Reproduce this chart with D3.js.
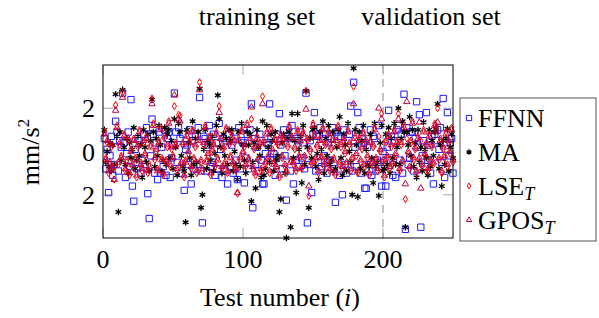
<!DOCTYPE html>
<html>
<head>
<meta charset="utf-8">
<script src="https://cdn.jsdelivr.net/npm/d3@7"></script>
<style>
  body { margin: 0; background: #fff; }
</style>
</head>
<body>
<svg id="viz"></svg>
<script>
const svg = d3.select("#viz")
  .attr("width", 599).attr("height", 318)
  .attr("font-family", "'Liberation Serif', 'Times New Roman', Times, serif");

// values for test number 1..250
const ffnn = [
  0.6, -0.8, 0.1, -1.9, -0.2, 0.7, -1.1, -0.6, 1.4, 0.9,
  -0.9, 0.5, 0.2, 2.7, 0.4, -1.2, -0.1, 0.9, -0.7, 2.4,
  -1.6, -2.3, 0.1, -0.8, 0.6, 0.5, -1.0, -0.4, 0.8, -0.6,
  1.1, -1.95, -3.1, -0.2, 1.5, 0.8, -1.0, 0.4, -1.3, 0.9,
  -1.0, 0.2, -0.7, 1.0, -1.1, 0.6, 0.9, -1.2, -0.3, 0.3,
  2.7, 0.9, -0.5, 1.1, 0.6, -1.0, 0.8, -1.8, 0.1, 0.3,
  -0.6, 1.0, -1.5, 0.5, -0.8, 0.7, -0.6, 1.1, 2.5, -0.9,
  -3.3, 0.7, 0.6, -0.9, 0.3, 1.2, -0.7, -0.5, 0.8, -1.1,
  0.4, -0.8, 1.3, 0.1, -1.2, 0.6, -0.9, 0.5, -1.5, 0.8,
  -0.7, 0.3, -1.0, 0.9, -0.4, -1.3, 1.1, -0.8, 0.5, 0.4,
  -1.45, -0.3, 0.8, -0.8, 1.0, 2.2, -2.6, 0.6, -0.6, 0.2,
  -0.9, 0.8, -0.4, -1.5, -1.5, -0.1, 0.4, 0.3, 2.2, 0.6,
  -0.4, -0.1, -1.1, -0.3, 0.8, 1.75, 0.3, -0.8, 1.0, -0.2,
  -2.25, 0.7, 0.6, -0.9, 1.2, -1.5, 0.6, -0.4, 0.5, -0.7,
  0.9, -0.3, 0.4, -0.8, 2.7, -3.3, -0.6, 0.5, -1.9, 0.8,
  1.8, -0.9, 0.7, -0.5, 1.1, -0.7, 0.6, -0.2, 0.8, -1.0,
  0.4, -0.4, 0.6, 1.1, -0.8, -2.35, 0.9, 0.7, -1.1, 0.7,
  -2.0, 1.0, -0.6, -1.0, 0.5, 0.8, 2.1, -0.9, 3.2, 0.2,
  -0.7, 1.8, 1.1, -1.0, 0.6, 0.4, -1.7, -1.7, 0.2, -0.6,
  1.0, -1.1, 0.7, 0.6, -0.9, -0.4, 1.2, -0.5, -1.6, 0.0,
  -0.7, -1.6, 0.2, 1.9, -0.3, 0.7, -1.1, 0.5, -1.2, 1.0,
  1.2, -0.4, 0.8, -1.0, 2.65, -3.6, 1.1, -0.6, -0.3, 0.9,
  0.9, -0.9, 0.6, 2.3, 0.2, 1.7, -3.5, -0.2, 0.5, -0.7,
  1.8, -0.4, 0.3, -1.0, 0.7, -1.5, 0.8, 0.5, 1.0, 0.1,
  1.1, -0.5, 2.45, -1.2, 0.4, 1.8, -0.2, 0.4, 0.6, -1.0
];
const ma = [
  1.0, -0.5, 0.0, -0.7, 0.4, -0.9, 0.3, -0.6, 2.65, 0.7,
  -2.8, 0.9, -0.4, 2.85, 0.2, -0.6, 0.6, -1.0, 0.4, -0.3,
  0.1, 1.1, -0.8, -0.4, 0.7, -0.2, 0.3, -1.2, 1.0, 0.2,
  -0.5, 0.8, -0.9, 0.5, 2.4, 0.9, -0.7, 0.6, -0.2, 1.2,
  0.3, -0.9, -0.4, 1.1, -0.6, 0.8, 1.0, -0.3, 0.5, -0.8,
  1.5, 0.2, -1.1, 1.3, 0.9, -0.2, -0.7, -0.9, -3.27, 1.0,
  0.4, -0.3, -1.1, 1.4, -0.6, 0.6, -0.5, 0.9, 2.9, -2.6,
  -2.0, 0.1, 1.0, -0.8, 0.5, 0.3, -0.4, 0.7, -0.9, -0.1,
  1.2, 2.6, 1.5, 0.2, -1.0, 0.8, -0.2, 0.6, -0.6, 1.0,
  0.5, 1.0, -0.9, 0.0, -0.6, -1.3, 0.9, -0.7, 1.3, 0.3,
  -0.4, -1.0, 0.9, 0.3, 0.8, -2.3, -0.5, 0.4, -1.7, 1.0,
  0.2, -0.2, -1.2, 1.4, -1.1, -0.8, 1.2, 0.2, -0.5, 0.8,
  0.5, -0.9, 0.9, -0.4, -0.2, -2.8, -2.2, 0.4, 0.8, -1.0,
  -4.0, 0.6, 0.9, -3.5, 1.75, -0.3, 0.5, -1.9, 1.75, 0.1,
  0.7, -1.45, 1.2, -0.6, 2.8, 0.2, -2.6, 0.6, -0.3, 1.0,
  1.1, -0.7, -0.1, -1.3, 0.9, 0.1, 1.4, -1.0, 0.6, -0.2,
  1.2, -0.6, -0.4, 0.9, -0.9, -0.8, 0.2, 1.0, 1.6, -0.3,
  -1.1, 0.8, 0.3, -0.9, 1.3, 0.0, -0.5, -2.0, 3.85, 1.0,
  0.3, -2.1, 0.9, -0.8, 0.5, 1.2, -1.0, 0.1, -0.6, -0.7,
  0.8, -0.3, -1.45, 1.3, -0.7, -0.5, -2.05, 0.4, 1.2, -0.9,
  -0.8, 0.8, -0.6, 1.1, -1.0, 0.6, -0.3, 1.3, -0.6, 0.2,
  2.0, -0.6, 0.6, 1.4, 0.9, -3.5, 0.9, 0.3, 1.6, -0.2,
  1.0, -0.7, 0.4, -1.2, 1.0, -0.5, 0.2, -0.9, 1.35, 0.1,
  -0.3, -1.1, 1.0, -0.7, 0.5, -0.2, 0.9, 1.1, 2.2, -0.8,
  0.3, -1.6, 0.5, -0.6, 0.6, 1.05, -0.9, 0.2, 0.8, -0.3
];
const lse = [
  0.9, -0.3, 0.4, -1.0, -0.5, 0.2, -0.8, -1.3, 2.15, 1.2,
  -0.6, 0.3, -0.2, 2.7, 0.8, -0.9, -0.4, 0.5, -1.1, 0.1,
  -0.7, 0.6, -0.3, -1.2, 0.2, 1.0, -0.5, -0.9, 0.4, -0.2,
  0.7, -1.0, -0.6, 0.3, 2.45, 1.3, -0.4, 0.0, -0.8, 0.5,
  1.1, -0.3, -1.1, 0.6, -0.5, 0.2, 1.4, -0.7, 0.1, -0.2,
  2.1, 0.4, -0.9, 1.7, 1.65, -0.6, 0.3, -1.2, -0.4, 0.8,
  -0.1, 0.5, -0.8, 1.0, -0.3, 0.2, -1.0, 0.6, 3.2, -0.5,
  -0.9, 0.3, 1.2, -0.4, -0.2, 0.7, -1.1, 0.0, 0.4, -0.7,
  0.9, -0.3, 2.1, 0.5, -0.8, 0.1, -0.5, 1.1, -1.0, 0.3,
  -0.2, 0.8, -0.6, 0.4, -0.9, -1.95, 0.6, -0.4, 1.0, -0.1,
  0.2, -0.7, 1.3, -0.3, 0.5, 1.5, -0.8, 0.1, -1.1, 0.7,
  -0.4, 0.3, -0.9, 2.55, 0.4, -0.6, 0.9, -0.2, -1.0, 1.1,
  0.0, -0.5, 0.6, -0.8, 0.3, -1.2, 0.8, -0.3, 0.5, -0.7,
  -1.0, 0.2, 1.2, -0.4, 0.7, -0.6, 0.1, -0.9, 1.0, -0.2,
  0.4, -0.8, 0.9, -0.3, 2.8, 0.5, -2.05, 0.0, -0.6, 1.3,
  0.8, -0.4, 0.2, -1.0, 0.6, -0.2, 1.1, -0.7, 0.3, -0.5,
  0.9, -0.9, 0.1, 0.6, -0.3, -1.1, 0.4, 1.2, -0.6, 0.2,
  -0.8, 0.5, -0.1, -0.6, 1.0, 0.3, -0.9, -0.4, 3.0, 0.7,
  -0.2, -1.0, 0.6, -0.5, 0.1, 0.9, -0.7, 0.4, -0.3, -1.1,
  0.5, -0.6, 0.2, 1.1, -0.4, -0.9, 0.7, 0.0, 1.75, -0.5,
  -1.2, 0.4, -0.3, 0.8, -0.8, 0.2, -0.6, 1.0, -0.2, 0.5,
  1.75, -0.9, 0.3, -0.5, 1.2, -2.2, 0.6, -0.1, -0.8, 0.4,
  1.4, -0.4, 0.1, -1.0, 0.7, -0.3, 0.5, -0.7, 1.0, -0.2,
  0.3, -0.9, 0.8, -0.5, 0.2, -0.6, 1.3, 1.0, 2.0, -0.4,
  0.6, -1.0, 0.1, -0.3, 0.9, -0.7, 0.4, -0.1, 1.1, -0.5
];
const gpos = [
  0.8, -0.4, 0.5, -0.9, -0.6, 0.3, -0.7, -1.3, 1.9, 1.1,
  -0.5, 0.4, -0.3, 2.5, 0.7, -0.8, -0.5, 0.6, -1.0, 0.0,
  -0.6, 0.5, -0.4, -1.1, 0.3, 0.9, -0.6, -0.8, 0.5, -0.1,
  0.6, -0.9, -0.7, 0.2, 2.2, 1.2, -0.3, 0.1, -0.9, 0.4,
  1.0, -0.4, -1.0, 0.7, -0.4, 0.3, 1.3, -0.6, 0.2, -0.3,
  2.6, 0.3, -0.8, 1.5, 1.4, -0.5, 0.4, -1.1, -0.5, 0.7,
  0.0, 0.4, -0.7, 0.9, -0.4, 0.3, -0.9, 0.5, 2.85, -0.4,
  -0.8, 0.4, 1.1, -0.5, -0.1, 0.6, -1.0, 0.1, 0.3, -0.6,
  0.8, -0.4, 1.8, 0.6, -0.7, 0.2, -0.6, 1.0, -0.9, 0.4,
  -0.3, 0.7, -0.5, 0.5, -0.8, -1.9, 0.5, -0.3, 0.9, 0.0,
  0.3, -0.6, 1.2, -0.4, 0.6, 2.05, -0.7, 0.2, -1.0, 0.6,
  -0.3, 0.4, -0.8, 2.2, 0.5, -0.5, 0.8, -0.3, -0.9, 1.0,
  0.1, -0.6, 0.5, -0.7, 0.4, -1.1, 0.7, -0.2, 0.6, -0.6,
  -0.9, 0.3, 1.1, -0.5, 0.6, -0.5, 0.2, -0.8, 0.9, -0.3,
  0.5, -0.7, 0.8, -0.2, 1.95, 0.6, -1.6, 0.1, -0.5, 1.2,
  0.7, -0.3, 0.3, -0.9, 0.5, -0.3, 1.0, -0.6, 0.4, -0.4,
  0.8, -0.8, 0.2, 0.5, -0.4, -1.0, 0.5, 1.1, -0.5, 0.3,
  -0.7, 0.6, 0.0, -0.5, 0.9, 0.4, -0.8, -0.3, 2.2, 0.6,
  -0.1, -0.9, 0.5, -0.4, 0.2, 0.8, -0.6, 0.5, -0.2, -1.0,
  0.4, -0.5, 0.3, 1.0, -0.3, -0.8, 2.0, 0.1, 1.5, -0.4,
  -1.1, 0.5, -0.2, 0.7, -0.7, 0.3, -0.5, 0.9, -0.1, 0.4,
  1.5, -0.8, 0.4, -0.4, 1.1, -1.5, 2.3, 0.0, -0.7, 0.5,
  1.3, -0.3, 0.2, -0.9, 0.6, 1.35, -1.7, -0.6, 0.9, -0.1,
  0.4, -0.8, 0.7, -0.4, 0.3, -0.5, 1.2, 0.9, 1.35, -0.3,
  0.5, -0.9, 0.2, -0.2, 0.8, -0.6, 0.5, 0.0, 1.0, -0.4
];

const xTicks = [0, 100, 200];
const yTicks = [-2, 0, 2];
const yTickLabels = ["2", "0", "2"];

const x = d3.scaleLinear().domain([0, 250]).range([103, 453]);
const y = d3.scaleLinear().domain([-4, 4]).range([238, 65]);

// dashed separator between training and validation
svg.append("line")
  .attr("x1", x(200)).attr("x2", x(200))
  .attr("y1", y(4)).attr("y2", y(-4))
  .attr("stroke", "#a0a0a0")
  .attr("stroke-width", 1.2)
  .attr("stroke-dasharray", "8,6");

// inward ticks on all four sides
const tickLen = 10;
const tickG = svg.append("g").attr("stroke", "#a8a8a8").attr("stroke-width", 1);
xTicks.forEach(t => {
  tickG.append("line").attr("x1", x(t)).attr("x2", x(t)).attr("y1", y(-4)).attr("y2", y(-4) - tickLen);
  tickG.append("line").attr("x1", x(t)).attr("x2", x(t)).attr("y1", y(4)).attr("y2", y(4) + tickLen);
});
yTicks.forEach(t => {
  tickG.append("line").attr("x1", x(0)).attr("x2", x(0) + tickLen).attr("y1", y(t)).attr("y2", y(t));
  tickG.append("line").attr("x1", x(250)).attr("x2", x(250) - tickLen).attr("y1", y(t)).attr("y2", y(t));
});

const series = [
  { name: "FFNN", sub: "", values: ffnn, type: d3.symbolSquare, size: 40, color: "#1a1aff", width: 1 },
  { name: "MA", sub: "", values: ma, type: d3.symbolAsterisk, size: 30, color: "#000", width: 1.3 },
  { name: "LSE", sub: "T", values: lse, type: d3.symbolDiamond, size: 15, color: "#ff0000", width: 1 },
  { name: "GPOS", sub: "T", values: gpos, type: d3.symbolTriangle, size: 18, color: "#bf0040", width: 1 }
];

series.forEach(s => {
  svg.append("g")
    .selectAll("path")
    .data(s.values)
    .enter()
    .append("path")
    .attr("transform", (d, i) => `translate(${x(i + 1)},${y(d)})`)
    .attr("d", d3.symbol().type(s.type).size(s.size))
    .attr("fill", "none")
    .attr("stroke", s.color)
    .attr("stroke-width", s.width);
});

// frame
svg.append("rect")
  .attr("x", x(0)).attr("y", y(4))
  .attr("width", x(250) - x(0)).attr("height", y(-4) - y(4))
  .attr("fill", "none").attr("stroke", "#000").attr("stroke-width", 1);

// tick labels
svg.selectAll(".xl")
  .data(xTicks)
  .enter()
  .append("text")
  .attr("x", d => x(d)).attr("y", 268)
  .attr("text-anchor", "middle")
  .attr("font-size", 26)
  .text(d => d);

svg.selectAll(".yl")
  .data(yTicks)
  .enter()
  .append("text")
  .attr("x", 95).attr("y", d => y(d) + 9)
  .attr("text-anchor", "end")
  .attr("font-size", 26)
  .text((d, i) => yTickLabels[i]);

// axis titles
const xt = svg.append("text")
  .attr("x", 280).attr("y", 306)
  .attr("text-anchor", "middle")
  .attr("font-size", 26);
xt.append("tspan").text("Test number (");
xt.append("tspan").attr("font-style", "italic").text("i");
xt.append("tspan").text(")");

const yt = svg.append("text")
  .attr("transform", "translate(39,152) rotate(-90)")
  .attr("text-anchor", "middle")
  .attr("font-size", 26);
yt.append("tspan").text("mm/s");
yt.append("tspan").attr("font-size", 17).attr("dy", -10).text("2");

// set labels
svg.append("text").attr("x", 257).attr("y", 25).attr("text-anchor", "middle")
  .attr("font-size", 26).text("training set");
svg.append("text").attr("x", 431).attr("y", 25).attr("text-anchor", "middle")
  .attr("font-size", 26).text("validation set");

// legend
const lg = svg.append("g");
lg.append("rect")
  .attr("x", 460).attr("y", 98).attr("width", 136).attr("height", 143)
  .attr("fill", "#fff").attr("stroke", "#555").attr("stroke-width", 1);

series.forEach((s, i) => {
  const cy = 118 + i * 34;
  lg.append("path")
    .attr("transform", `translate(469,${cy})`)
    .attr("d", d3.symbol().type(s.type).size(s.size * 0.7))
    .attr("fill", "none")
    .attr("stroke", s.color)
    .attr("stroke-width", s.width);
  const t = lg.append("text")
    .attr("x", 478).attr("y", cy + 9)
    .attr("font-size", 26);
  t.append("tspan").text(s.name);
  if (s.sub) {
    t.append("tspan").attr("font-style", "italic").attr("font-size", 18).attr("dy", 5).text(s.sub);
  }
});
</script>
</body>
</html>
